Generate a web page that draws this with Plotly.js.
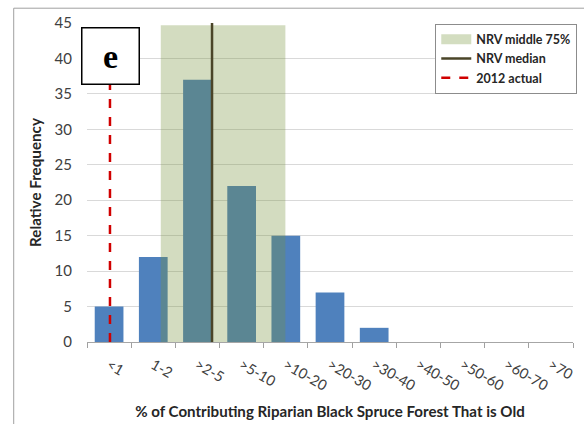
<!DOCTYPE html>
<html>
<head>
<meta charset="utf-8">
<script src="https://cdn.plot.ly/plotly-3.0.1.min.js"></script>
<style>html,body{margin:0;padding:0;background:#fff;}#chart{width:584px;height:424px;}</style>
</head>
<body>
<div id="chart"></div>
<script>
// Data
var categories = ['<1', '1-2', '>2-5', '>5-10', '>10-20', '>20-30', '>30-40', '>40-50', '>50-60', '>60-70', '>70'];
var frequency = [5, 12, 37, 22, 15, 7, 2, 0, 0, 0, 0];
// NRV middle 75% range and median, 2012 actual (in category-index units)
var nrvRange = [1.17, 3.99];
var nrvRangeTop = [44.7];
var nrvMedian = [2.33];
var actual2012 = [0.02];
var seriesNames = ['NRV middle 75%', 'NRV median', '2012 actual'];

var FONT = 'Lato, Open Sans, sans-serif';

var traces = [
  {
    type: 'bar', x: categories, y: frequency,
    marker: {color: '#4F81BD'}, showlegend: false, hoverinfo: 'x+y'
  },
  {type: 'scatter', mode: 'lines', x: [null], y: [null], name: seriesNames[0],
   line: {color: '#D3DDC0', width: 16}},
  {type: 'scatter', mode: 'lines', x: [null], y: [null], name: seriesNames[1],
   line: {color: '#4A4528', width: 2.5}},
  {type: 'scatter', mode: 'lines', x: [null], y: [null], name: seriesNames[2],
   line: {color: '#D00000', width: 2.5, dash: 'dash'}}
];

var shapes = [
  {type: 'rect', xref: 'x', yref: 'y', x0: nrvRange[0], x1: nrvRange[1], y0: 0, y1: nrvRangeTop[0],
   fillcolor: 'rgba(118,146,58,0.32)', line: {width: 0}, layer: 'above'},
  {type: 'line', xref: 'x', yref: 'y', x0: nrvMedian[0], x1: nrvMedian[0], y0: 0, y1: 45,
   line: {color: '#4A4528', width: 2.5}, layer: 'above'},
  {type: 'line', xref: 'x', yref: 'y', x0: actual2012[0], x1: actual2012[0], y0: 0, y1: 40,
   line: {color: '#D00000', width: 2.5, dash: 'dash'}, layer: 'above'},
  {type: 'rect', xref: 'paper', yref: 'paper', x0: -0.1508, x1: 1.05, y0: -0.5, y1: 1.0464,
   line: {color: '#A0A0A0', width: 1}, fillcolor: 'rgba(0,0,0,0)', layer: 'below'}
];

var layout = {
  width: 584, height: 424,
  margin: {l: 87, r: 7, t: 23, b: 82},
  paper_bgcolor: '#ffffff', plot_bgcolor: '#ffffff',
  font: {family: FONT, color: '#404040'},
  bargap: 0.35,
  showlegend: true,
  legend: {
    x: 0.7166, y: 0.998, xanchor: 'left', yanchor: 'top',
    bgcolor: '#ffffff', bordercolor: '#8C8C8C', borderwidth: 1,
    font: {family: FONT, size: 12.5, color: '#262626', weight: 'bold'},
    itemwidth: 30, tracegroupgap: 0
  },
  xaxis: {
    type: 'category', range: [-0.5, 10.5], fixedrange: true,
    tickson: 'boundaries', ticks: 'outside', ticklen: 5, tickcolor: '#A0A0A0',
    showline: true, linecolor: '#A6A6A6', linewidth: 1,
    showgrid: false, tickangle: 30, ticklabelstandoff: 8,
    tickfont: {family: FONT, size: 14.5, color: '#404040'},
    title: {text: '% of Contributing Riparian Black Spruce Forest That is Old',
            font: {family: FONT, size: 15.1, color: '#262626', weight: 'bold'}, standoff: 13},
    automargin: false
  },
  yaxis: {
    range: [0, 45], dtick: 5, fixedrange: true,
    showgrid: true, gridcolor: '#D9D9D9', gridwidth: 1,
    ticks: '', ticklabelstandoff: 14,
    showline: false, zeroline: false,
    tickfont: {family: FONT, size: 15, color: '#404040'},
    title: {text: 'Relative Frequency',
            font: {family: FONT, size: 15.2, color: '#262626', weight: 'bold'}, standoff: 9},
    automargin: false
  },
  shapes: shapes,
  annotations: [
    {xref: 'paper', yref: 'paper', x: 0.049, y: 0.8975, xanchor: 'center', yanchor: 'middle',
     text: 'e', showarrow: false, width: 54, height: 53,
     bgcolor: '#ffffff', bordercolor: '#000000', borderwidth: 1.5,
     font: {family: 'Liberation Serif, DejaVu Serif, serif', size: 34, color: '#000000', weight: 'bold'}}
  ]
};

Plotly.newPlot('chart', traces, layout, {displayModeBar: false, staticPlot: true});
</script>
</body>
</html>
